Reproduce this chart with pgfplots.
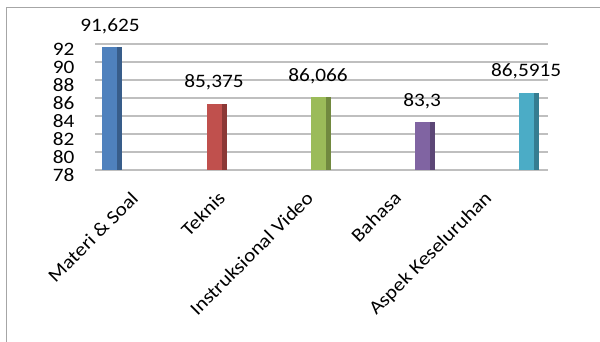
\documentclass[border=0pt]{standalone}
\usepackage{pgfplots}
\pgfplotsset{compat=1.18}
\usepackage{fontspec}
\setmainfont[FakeStretch=1.12]{Carlito}
\definecolor{bF}{HTML}{4F81BD}\definecolor{bS}{HTML}{385D8A}
\definecolor{rF}{HTML}{C0504D}\definecolor{rS}{HTML}{8C3836}
\definecolor{gF}{HTML}{9BBB59}\definecolor{gS}{HTML}{71893F}
\definecolor{pF}{HTML}{8064A2}\definecolor{pS}{HTML}{5C4776}
\definecolor{aF}{HTML}{4BACC6}\definecolor{aS}{HTML}{357D91}
\definecolor{gridc}{RGB}{191,191,191}
\begin{document}
\begin{tikzpicture}
\useasboundingbox (0,0) rectangle (600bp,342bp);
\fill[white] (0,0) rectangle (600bp,342bp);
\draw[color=gray!70, line width=1bp] (6bp,-2bp) -- (6bp,334bp) -- (602bp,334bp);
\begin{axis}[
  at={(95bp,172bp)}, anchor=south west,
  scale only axis, width=453bp, height=126bp,
  xmin=-0.144, xmax=4.21, ymin=78, ymax=92,
  ytick={78,80,...,92},
  xtick={0.192,1.029,1.875,2.721,3.587},
  xticklabels={Materi \& Soal,Teknis,Instruksional Video,Bahasa,Aspek Keseluruhan},
  xticklabel style={yshift=-20bp, rotate=45, anchor=north east, inner sep=0pt},
  yticklabel style={xshift=-17bp, yshift=-5bp},
  /pgf/number format/assume math mode=true,
  font=\fontsize{19bp}{22bp}\selectfont,
  major tick length=0pt,
  axis x line*=bottom, axis y line*=left,
  x axis line style={-, draw=gridc, line width=2.5bp},
  y axis line style={draw=none},
  ymajorgrids, grid style={draw=gridc, line width=1.5bp},
  nodes near coords align={center},
  every node near coord/.append style={font=\fontsize{19bp}{22bp}\selectfont, yshift=21bp, text=black},
  clip=true,
]
\addplot[ybar, bar width=5bp, bar shift=10bp, fill=bS, draw=none] coordinates {(0,91.625)};
\addplot[ybar, bar width=15bp, bar shift=0bp, fill=bF, draw=none, nodes near coords={91,625}] coordinates {(0,91.625)};
\addplot[ybar, bar width=5bp, bar shift=10bp, fill=rS, draw=none] coordinates {(1,85.375)};
\addplot[ybar, bar width=15bp, bar shift=0bp, fill=rF, draw=none, nodes near coords={85,375}] coordinates {(1,85.375)};
\addplot[ybar, bar width=5bp, bar shift=10bp, fill=gS, draw=none] coordinates {(2,86.066)};
\addplot[ybar, bar width=15bp, bar shift=0bp, fill=gF, draw=none, nodes near coords={86,066}] coordinates {(2,86.066)};
\addplot[ybar, bar width=5bp, bar shift=10bp, fill=pS, draw=none] coordinates {(3,83.3)};
\addplot[ybar, bar width=15bp, bar shift=0bp, fill=pF, draw=none, nodes near coords={83,3}] coordinates {(3,83.3)};
\addplot[ybar, bar width=5bp, bar shift=10bp, fill=aS, draw=none] coordinates {(4,86.5915)};
\addplot[ybar, bar width=15bp, bar shift=0bp, fill=aF, draw=none, nodes near coords={86,5915}] coordinates {(4,86.5915)};
\end{axis}
\end{tikzpicture}
\end{document}
